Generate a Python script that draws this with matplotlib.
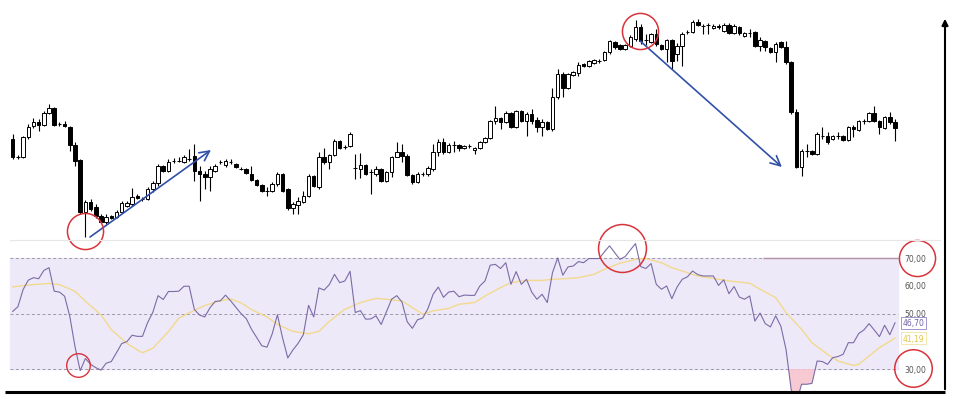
import matplotlib
matplotlib.use('Agg')
import matplotlib.pyplot as plt
from matplotlib.patches import FancyArrowPatch
from matplotlib.lines import Line2D
import numpy as np

# --- candles (price units) ---
opens = [110, 92, 92, 112, 123, 127, 124, 136, 141, 125,
         125, 122, 104, 89, 37, 47, 42, 33, 27, 33,
         32, 37, 43, 45, 53, 50, 50, 60, 66, 83,
         78, 88, 88, 87, 90, 93, 78, 75, 72, 78,
         87, 84, 87, 85, 80, 80, 75, 69, 64, 58,
         58, 65, 75, 60, 41, 44, 47, 53, 73, 62,
         92, 87, 94, 108, 102, 103, 81, 80, 84, 77,
         75, 80, 68, 77, 92, 97, 93, 74, 67, 75,
         75, 80, 97, 107, 97, 104, 104, 101, 103, 99,
         101, 107, 111, 128, 131, 127, 136, 122, 138, 128,
         135, 129, 122, 127, 120, 152, 175, 161, 174, 176,
         185, 183, 186, 188, 189, 197, 207, 204, 200, 203,
         210, 222, 209, 207, 215, 204, 200, 209, 195, 203,
         217, 217, 227, 223, 224, 221, 223, 218, 224, 216,
         222, 213, 216, 217, 203, 208, 201, 197, 207, 202,
         187, 137, 82, 98, 98, 95, 113, 113, 110, 113,
         113, 109, 122, 119, 128, 128, 136, 128, 121, 132,
         127]
closes = [92, 92, 112, 122, 127, 124, 136, 141, 124, 125,
          123, 104, 88, 37, 47, 40, 33, 27, 32, 31,
          37, 46, 46, 52, 51, 50, 60, 66, 83, 78,
          87, 88, 88, 92, 90, 78, 75, 72, 80, 83,
          87, 88, 87, 82, 80, 76, 69, 64, 58, 58,
          65, 75, 58, 41, 45, 48, 53, 73, 63, 92,
          87, 94, 108, 101, 102, 115, 81, 84, 75, 77,
          80, 68, 77, 92, 97, 93, 74, 67, 75, 75,
          81, 97, 107, 97, 104, 104, 101, 103, 103, 101,
          107, 111, 128, 131, 127, 136, 122, 138, 128, 135,
          128, 122, 127, 120, 152, 175, 161, 175, 177, 184,
          183, 188, 189, 188, 197, 208, 202, 200, 204, 212,
          222, 208, 209, 215, 205, 200, 209, 188, 203, 215,
          217, 227, 224, 223, 224, 223, 222, 224, 216, 223,
          216, 216, 216, 203, 209, 202, 197, 205, 202, 187,
          137, 82, 98, 98, 95, 115, 113, 107, 113, 113,
          109, 122, 120, 128, 128, 136, 128, 122, 132, 127,
          121]
highs = [115, 94, 113, 125, 131, 130, 138, 145, 142, 127,
         128, 123, 107, 90, 49, 50, 45, 35, 35, 34,
         39, 48, 48, 61, 55, 52, 62, 68, 85, 84,
         90, 91, 92, 94, 100, 105, 83, 78, 83, 85,
         89, 90, 90, 86, 82, 81, 83, 70, 65, 62,
         67, 77, 76, 61, 47, 52, 58, 75, 74, 97,
         101, 95, 110, 109, 104, 117, 95, 96, 85, 80,
         83, 81, 78, 93, 107, 105, 95, 75, 77, 77,
         83, 105, 110, 111, 106, 108, 105, 104, 105, 102,
         108, 112, 129, 143, 132, 138, 137, 139, 139, 137,
         140, 132, 130, 128, 161, 180, 177, 176, 178, 187,
         186, 189, 190, 190, 198, 209, 208, 205, 205, 214,
         229, 225, 215, 216, 220, 205, 210, 210, 206, 217,
         219, 229, 230, 225, 226, 225, 225, 226, 226, 225,
         223, 217, 220, 218, 212, 209, 202, 207, 208, 208,
         188, 140, 100, 105, 99, 117, 122, 117, 114, 117,
         114, 123, 124, 129, 130, 137, 143, 129, 133, 137,
         130]
lows = [90, 90, 91, 110, 121, 118, 123, 135, 123, 123,
        122, 98, 83, 35, 12, 38, 31, 26, 25, 30,
        31, 36, 42, 43, 50, 48, 49, 57, 63, 77,
        77, 86, 87, 86, 88, 68, 48, 60, 58, 77,
        85, 82, 85, 81, 79, 75, 68, 63, 57, 53,
        57, 63, 57, 39, 35, 35, 46, 52, 62, 60,
        85, 80, 93, 100, 100, 102, 70, 71, 74, 55,
        73, 67, 67, 72, 92, 87, 73, 65, 66, 73,
        73, 78, 93, 95, 96, 97, 98, 100, 101, 95,
        100, 106, 110, 125, 120, 126, 121, 121, 127, 113,
        125, 117, 113, 119, 118, 150, 152, 160, 173, 173,
        182, 182, 185, 186, 188, 195, 200, 199, 199, 202,
        208, 205, 204, 206, 203, 199, 187, 180, 188, 183,
        215, 216, 223, 215, 215, 220, 220, 217, 215, 215,
        214, 212, 212, 202, 198, 198, 196, 187, 201, 185,
        135, 81, 73, 92, 94, 94, 110, 105, 109, 110,
        108, 108, 112, 118, 125, 127, 127, 115, 120, 125,
        108]

# --- RSI and its moving average ---
rsi = [50.8, 52.5, 58.7, 62.1, 63.0, 62.6, 65.6, 66.6, 58.1, 57.8,
       56.3, 49.0, 38.1, 29.4, 33.8, 31.7, 30.5, 29.6, 32.1, 32.7,
       35.9, 39.2, 39.9, 42.2, 41.8, 41.8, 46.8, 50.5, 56.5, 55.1,
       58.0, 58.0, 58.1, 59.9, 59.9, 51.5, 49.5, 48.8, 52.1, 54.4,
       54.6, 56.7, 54.6, 52.3, 50.0, 48.2, 44.4, 41.4, 38.4, 37.9,
       42.7, 49.6, 41.2, 34.0, 36.9, 39.3, 42.4, 53.0, 48.8, 59.3,
       58.5, 60.5, 64.2, 61.2, 61.8, 65.3, 50.4, 51.1, 48.0, 48.1,
       49.2, 46.1, 50.7, 55.2, 56.5, 54.2, 47.1, 44.7, 47.8, 48.4,
       51.8, 57.0, 59.6, 55.9, 57.8, 58.1, 56.1, 56.7, 56.6, 56.6,
       60.0, 61.8, 67.5, 67.8, 66.3, 68.4, 60.6, 65.2, 60.6, 62.4,
       57.8, 55.2, 57.0, 54.0, 64.8, 70.1, 63.9, 66.9, 67.2, 68.8,
       68.4, 69.9, 69.9, 69.9, 72.3, 74.5, 72.0, 69.6, 70.6, 73.0,
       75.3, 67.0, 66.3, 68.1, 60.6, 58.8, 60.0, 55.4, 59.6, 62.4,
       63.3, 65.4, 64.1, 63.6, 63.6, 63.6, 60.2, 62.2, 57.2, 59.8,
       56.0, 55.2, 56.4, 47.3, 50.2, 46.4, 45.2, 49.2, 45.5, 37.1,
       22.5, 18.0, 24.5, 24.5, 24.8, 32.9, 32.7, 31.7, 34.1, 34.5,
       35.3, 39.5, 39.5, 42.8, 44.1, 46.4, 44.1, 41.7, 45.8, 42.4,
       46.7]
ma_bar = [1, 5, 8, 10, 13, 15, 18, 20, 23, 25, 26, 28, 31, 33, 36, 38, 41, 43, 45, 47,
          50, 52, 55, 58, 60, 62, 65, 68, 71, 73, 76, 78, 80, 82, 85, 87, 90, 92, 95, 97,
          100, 103, 105, 108, 110, 113, 115, 118, 121, 123, 126, 128, 131, 133, 136, 139,
          141, 143, 145, 148, 150, 153, 155, 158, 160, 163, 164, 166, 168, 171]
ma_vals = [59.7, 60.5, 60.9, 60.5, 58.1, 54.5, 49.6, 44.2, 39.3, 36.9, 35.9, 37.5, 43.5,
           48.4, 51.2, 52.9, 54.7, 55.3, 53.9, 51.5, 48.8, 46.1, 43.6, 42.7, 43.6, 47.2,
           51.6, 54.0, 55.5, 55.2, 54.6, 52.2, 49.8, 51.0, 51.9, 53.4, 54.0, 56.4, 59.4,
           61.2, 62.0, 62.0, 62.4, 62.7, 63.0, 64.2, 66.0, 68.2, 69.6, 69.9, 68.4, 66.6,
           64.8, 63.6, 62.7, 61.8, 61.4, 61.0, 58.8, 55.8, 50.4, 44.3, 39.5, 35.3, 32.9,
           31.3, 31.7, 34.7, 37.7, 41.19]
rsi_levels = [70, 50, 30]
axis_labels = ['70,00', '60,00', '50,00', '30,00']
axis_label_vals = [70, 60, 50, 30]

W, H = 970, 406
fig = plt.figure(figsize=(W / 100, H / 100), dpi=100)
fig.patch.set_facecolor('white')

XL = (-2.45, 184.45)
ax = fig.add_axes([0, 1 - 241 / H, 1, 241 / H])
axr = fig.add_axes([0, 13 / H, 1, 152 / H])
for a in (ax, axr):
    a.set_xlim(*XL)
    a.axis('off')
ax.set_ylim(9, 250)
axr.set_ylim(21.7, 76.6)

# candles
x = np.arange(len(opens))
o = np.array(opens, float); c = np.array(closes, float)
up = c >= o
ax.vlines(x, lows, highs, color='black', lw=0.8, zorder=2)
bottoms = np.minimum(o, c)
heights = np.abs(c - o)
ax.bar(x[up], heights[up], 0.68, bottom=bottoms[up], facecolor='white',
       edgecolor='black', linewidth=0.7, zorder=3)
ax.bar(x[~up], heights[~up], 0.68, bottom=bottoms[~up], facecolor='black',
       edgecolor='black', linewidth=0.7, zorder=3)

# RSI pane
axr.axhspan(30, 70, xmin=10 / W, xmax=898 / W, color='#ede9f8', zorder=0)
axr.hlines(rsi_levels, -0.52, 170.6, colors='#9c98aa', linestyles=(0, (3, 2.5)), lw=0.7, zorder=1)
axr.hlines(70, 144.6, 170.6, colors='#b48fa8', lw=1.0, zorder=2)
r = np.array(rsi)
axr.fill_between(x, r, 30, where=r < 30, interpolate=True, color='#f7c3cd', alpha=0.9, lw=0, zorder=2)
axr.plot(np.array(ma_bar) - 1, ma_vals, color='#f3d98e', lw=1.0, zorder=3)
axr.plot(x, rsi, color='#7a6ca6', lw=0.8, zorder=4)

for lab, v in zip(axis_labels, axis_label_vals):
    axr.text(173.85, v, lab, fontsize=5.5, color='#555555', ha='center', va='center')
axr.text(173.5, rsi[-1], '46,70', fontsize=5.5, color='#6f62a8', ha='center', va='center',
         bbox=dict(boxstyle='square,pad=0.2', fc='white', ec='#8f84c4', lw=0.6))
axr.text(173.5, ma_vals[-1], '41,19', fontsize=5.5, color='#e5c443', ha='center', va='center',
         bbox=dict(boxstyle='square,pad=0.2', fc='white', ec='#f3e39e', lw=0.6))

# frame: bottom rule, right arrow, pane separator
axr.hlines(21.7, -1.5, 179.6, colors='black', lw=2.2, clip_on=False, zorder=6)
fig.add_artist(FancyArrowPatch((945 / W, 13 / H), (945 / W, 389 / H), transform=fig.transFigure,
                               arrowstyle='-|>', mutation_scale=9, lw=1.5, color='black'))
fig.add_artist(Line2D([10 / W, 940 / W], [165 / H, 165 / H], color='#e6e6e6', lw=0.8))

# annotations
red = '#d8343b'
ax.plot([13.93], [18], marker='o', ms=26, mfc='none', mec=red, mew=1.1, clip_on=False, zorder=7)
ax.plot([120.9], [218], marker='o', ms=26, mfc='none', mec=red, mew=1.1, clip_on=False, zorder=7)
axr.plot([117.4], [73.7], marker='o', ms=34.5, mfc='none', mec=red, mew=1.1, clip_on=False, zorder=7)
axr.plot([12.6], [31.4], marker='o', ms=17, mfc='none', mec=red, mew=1.0, clip_on=False, zorder=7)
axr.plot([174.2], [70.1], marker='o', ms=26, mfc='none', mec=red, mew=1.1, clip_on=False, zorder=7)
axr.plot([173.5], [30.4], marker='o', ms=27, mfc='none', mec=red, mew=1.1, clip_on=False, zorder=7)

blue = '#3150a8'
for (x0, y0), (x1, y1) in [((14.9, 12), (38.2, 99)), ((120.9, 208), (148.2, 82))]:
    ax.annotate('', xy=(x1, y1), xytext=(x0, y0), annotation_clip=False,
                arrowprops=dict(arrowstyle='->,head_length=0.7,head_width=0.35',
                                color=blue, lw=1.2, shrinkA=0, shrinkB=0))

fig.savefig('out.png', dpi=100, facecolor='white')
